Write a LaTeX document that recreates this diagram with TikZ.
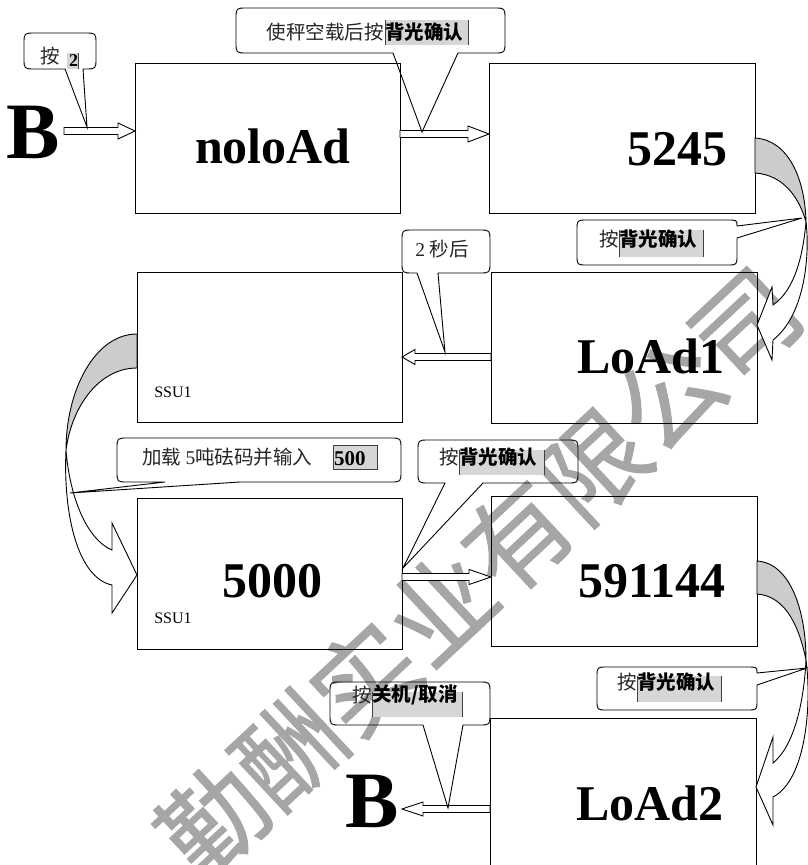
\documentclass[tikz,border=0pt]{standalone}
\usepackage{fontspec}
\setmainfont{Liberation Serif}
\newfontfamily\cjk{Noto Sans CJK SC}
\newfontfamily\cjkwm{Noto Sans CJK SC}[FakeBold=1]
\usetikzlibrary{calc}
\newcommand{\blockarr}[4]{%
 \draw[arrst] let \p1=(#1), \p2=(#2), \n1={ifthenelse(\x2>\x1,1,-1)} in
 (\x1,{\y2+3.5pt}) -- ({\x2-#3*\n1},{\y2+3.5pt}) -- ({\x2-#3*\n1},{\y2+#4}) -- (\x2,\y2)
 -- ({\x2-#3*\n1},{\y2-#4}) -- ({\x2-#3*\n1},{\y2-3.5pt}) -- (\x1,{\y2-3.5pt}) -- cycle;}
% bottom-wedge callout: x1 y1 x2 y2 xa xb tip
\newcommand{\calbot}[7]{%
 \draw[calst] (#5,#4) -- ({#1+11},#4) .. controls (#1,#4) .. (#1,{#4-11})
 -- (#1,{#2+11}) .. controls (#1,#2) .. ({#1+11},#2)
 -- ({#3-11},#2) .. controls (#3,#2) .. (#3,{#2+11})
 -- (#3,{#4-11}) .. controls (#3,#4) .. ({#3-11},#4)
 -- (#6,#4) -- (#7) -- cycle;}
% right-wedge callout near top right corner: x1 y1 x2 y2 ya yb tip
\newcommand{\calright}[7]{%
 \draw[calst] (#3,#6) -- (#3,{#4-10}) .. controls (#3,#4) .. ({#3-10},#4)
 -- ({#1+10},#4) .. controls (#1,#4) .. (#1,{#4-10})
 -- (#1,{#2+10}) .. controls (#1,#2) .. ({#1+10},#2)
 -- ({#3-10},#2) .. controls (#3,#2) .. (#3,#5) -- (#7) -- cycle;}
\newcommand{\graylab}[4]{%
 \fill[black!16] (#1,#2) rectangle (#3,#4);
 \draw[black!75, line width=0.8pt] (#1,#2) -- (#1,#4) (#3,#2) -- (#3,#4);}
\begin{document}
\begin{tikzpicture}[x=1pt,y=-1pt,
  boxst/.style={draw, line width=1pt, inner sep=0pt},
  bigtxt/.style={font=\fontsize{50}{50}\selectfont\bfseries, inner sep=0pt, anchor=base},
  hugetxt/.style={font=\fontsize{80}{80}\selectfont\bfseries, inner sep=0pt, anchor=base},
  smalltxt/.style={font=\fontsize{16}{16}\selectfont, inner sep=0pt, anchor=base},
  cjktxt/.style={font=\cjk\fontsize{19.5}{20}\selectfont, text=black!85, inner sep=0pt},
  cjkbold/.style={font=\cjk\bfseries\fontsize{19.5}{20}\selectfont, inner sep=0pt},
  calst/.style={draw, line width=0.9pt},
  arrst/.style={draw, fill=white, line width=0.9pt},
  crest/.style={draw, fill=black!20, line width=0.9pt},
  bandst/.style={draw, fill=white, line width=0.9pt},
  wmst/.style={font=\cjkwm\fontsize{104}{104}\selectfont, text=black!35, inner sep=0pt}]
\useasboundingbox (0,0) rectangle (807,865);

% watermark
\node[wmst, rotate=43] (wm) at (479,572) {勤酬实业有限公司};

% boxes
\node[boxst, minimum width=265pt, minimum height=150pt] (nolo) at (267.5,138) {};
\node[boxst, minimum width=266pt, minimum height=150pt] (b5245) at (622,138) {};
\node[boxst, minimum width=266pt, minimum height=151pt] (load1) at (624,347.5) {};
\node[boxst, minimum width=265pt, minimum height=150pt] (ssu) at (269.5,347) {};
\node[boxst, minimum width=265pt, minimum height=151pt] (b5000) at (269.5,573.5) {};
\node[boxst, minimum width=266pt, minimum height=150pt] (b591) at (624,571) {};
\node[boxst, minimum width=266pt, minimum height=150pt] (load2) at (623,793) {};

% box texts
\node[bigtxt] (tnolo) at (273,163) {noloAd};
\node[bigtxt] (t5245) at (677,165) {5245};
\node[bigtxt] (tload1) at (651,373) {LoAd1};
\node[bigtxt] (t5000) at (272,597) {5000};
\node[bigtxt] (t591) at (652,597) {591144};
\node[bigtxt] (tload2) at (650,820) {LoAd2};
\node[smalltxt] (ssua) at (173,397) {SSU1};
\node[smalltxt] (ssub) at (173,623) {SSU1};
\node[hugetxt] (B1) at (33,158) {B};
\node[hugetxt] (B2) at (372,827) {B};

% straight block arrows
\coordinate (a1s) at (64,131);  \coordinate (a1e) at (135,131);
\coordinate (a2s) at (400,134); \coordinate (a2e) at (489,134);
\coordinate (a3s) at (491,357); \coordinate (a3e) at (402,357);
\coordinate (a4s) at (402,577); \coordinate (a4e) at (491,577);
\coordinate (a5s) at (490,809); \coordinate (a5e) at (402,809);
\blockarr{a1s}{a1e}{17pt}{8pt}
\blockarr{a2s}{a2e}{21pt}{8pt}
\blockarr{a3s}{a3e}{13pt}{7.5pt}
\blockarr{a4s}{a4e}{22pt}{7.5pt}
\blockarr{a5s}{a5e}{21pt}{7pt}

% curved arrow 5245 -> LoAd1
\coordinate (r1A) at (755,138); \coordinate (r1B) at (755,173); \coordinate (r1P) at (806,222);
\coordinate (r1C) at (773,305); \coordinate (r1U) at (772,287); \coordinate (r1T) at (757,325);
\coordinate (r1L) at (772,360); \coordinate (r1D) at (773,340);
\draw[crest] (r1A) .. controls (788,140) and (805,178) .. (r1P) .. controls (800,200) and (785,175) .. (r1B) -- cycle;
\draw[bandst] (r1P) .. controls (810,255) and (805,315) .. (r1D) -- (r1L) -- (r1T) -- (r1U) -- (r1C) .. controls (795,290) and (803,255) .. (r1P);

% curved arrow SSU1 -> 5000
\coordinate (l1A) at (137,334); \coordinate (l1B) at (137,368); \coordinate (l1P) at (66,450);
\coordinate (l1C) at (112,550); \coordinate (l1U) at (112,523); \coordinate (l1T) at (137,575);
\coordinate (l1L) at (112,613); \coordinate (l1D) at (112,585);
\draw[crest] (l1A) .. controls (95,334) and (66,390) .. (l1P) .. controls (72,405) and (100,368) .. (l1B) -- cycle;
\draw[bandst] (l1P) .. controls (63,515) and (78,578) .. (l1D) -- (l1L) -- (l1T) -- (l1U) -- (l1C) .. controls (88,540) and (70,500) .. (l1P);

% curved arrow 591144 -> LoAd2
\coordinate (r2A) at (757,561); \coordinate (r2B) at (757,594); \coordinate (r2P) at (806,660);
\coordinate (r2C) at (773,763); \coordinate (r2U) at (773,737); \coordinate (r2T) at (756,787);
\coordinate (r2L) at (773,825); \coordinate (r2D) at (773,797);
\draw[crest] (r2A) .. controls (790,563) and (806,610) .. (r2P) .. controls (800,630) and (787,596) .. (r2B) -- cycle;
\draw[bandst] (r2P) .. controls (812,705) and (806,780) .. (r2D) -- (r2L) -- (r2T) -- (r2U) -- (r2C) .. controls (795,745) and (804,700) .. (r2P);

% callouts
\coordinate (c1t) at (87,127);
\calbot{24}{33}{96}{69}{65}{83}{c1t}
\coordinate (c2t) at (422,132);
\calbot{236}{8}{505}{53}{393}{458}{c2t}
\coordinate (c3t) at (802,218);
\calright{577}{220}{737}{265}{226}{238}{c3t}
\coordinate (c4t) at (445,352);
\calbot{402}{230}{490}{273}{417}{438}{c4t}
\coordinate (c5t) at (70,493);
\calbot{117}{438}{401}{482}{165}{240}{c5t}
\coordinate (c6t) at (403,568);
\calbot{418}{440}{578}{483}{445}{483}{c6t}
\coordinate (c7t) at (807,668);
\calright{597}{667}{757}{710}{673}{685}{c7t}
\coordinate (c8t) at (448,808);
\calbot{330}{682}{490}{725}{423}{463}{c8t}

% callout texts
\node[cjktxt] (k1) at (50,56) {按};
\fill[black!16] (67,53) rectangle (78,69);
\draw[black!75, line width=0.8pt] (78,53) -- (78,69);
\node[font=\fontsize{18}{18}\selectfont\bfseries, inner sep=0pt, anchor=base] (k1b) at (73.5,66) {2};

\node[cjktxt, anchor=east] (k2) at (384,32) {使秤空载后按};
\graylab{385}{20}{468}{45}
\node[cjkbold, anchor=west] (k2b) at (385,32) {背光确认};

\node[cjktxt, anchor=east] (k3) at (619,239) {按};
\graylab{619}{230}{703}{257}
\node[cjkbold, anchor=west] (k3b) at (619,239) {背光确认};

\node[cjktxt] (k4) at (442,249) {{\rmfamily 2} 秒后};

\node[cjktxt, anchor=west] (k5) at (142,457) {加载 {\rmfamily 5}吨砝码并输入};
\fill[black!16] (333,445) rectangle (377,469);
\draw[black!75, line width=0.8pt] (333,445) rectangle (377,469);
\node[font=\fontsize{21}{21}\selectfont\bfseries, inner sep=0pt, anchor=base west] (k5b) at (334,465) {500};

\node[cjktxt, anchor=east] (k6) at (459,457) {按};
\graylab{459}{450}{544}{475}
\node[cjkbold, anchor=west] (k6b) at (459,457) {背光确认};

\node[cjktxt, anchor=east] (k7) at (637,682) {按};
\graylab{637}{676}{721}{702}
\node[cjkbold, anchor=west] (k7b) at (637,682) {背光确认};

\node[cjktxt, anchor=east] (k8) at (372,695) {按};
\graylab{372}{692}{462}{717}
\node[cjkbold, anchor=west] (k8b) at (372,695) {关机/取消};
\end{tikzpicture}
\end{document}
